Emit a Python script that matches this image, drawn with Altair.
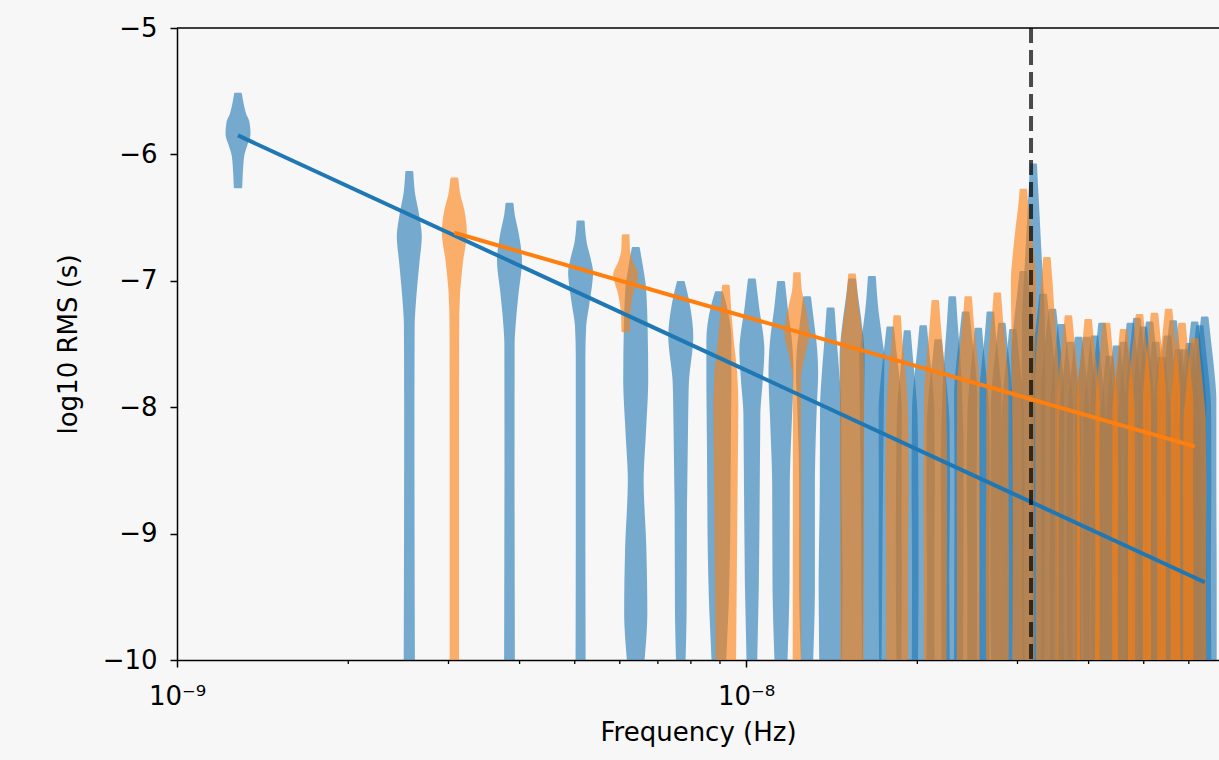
import altair as alt
import pandas as pd

# Fundamental frequencies of the two spectral grids (Hz) and the 1/yr line
BLUE_BASE_HZ = 1.28e-9
ORANGE_BASE_HZ = 3.072e-9
YEAR_HZ = 1.0 / (365.25 * 86400.0)

BLUE = "#1f77b4"
ORANGE = "#ff7f0e"

# Violin outlines per harmonic: (log10 RMS, relative density) knots, bottom -> tip
BLUE_PROFILES = [
    [(-6.26, 0.28), (-6.12, 0.35), (-6.0, 0.48), (-5.92, 0.75), (-5.84, 1.0), (-5.74, 0.9), (-5.68, 0.62), (-5.62, 0.45), (-5.52, 0.25)],
    [(-10, 0.4), (-9, 0.37), (-8, 0.36), (-7.36, 0.38), (-7.1, 0.55), (-6.85, 0.8), (-6.65, 1.0), (-6.47, 0.75), (-6.3, 0.4), (-6.14, 0.26)],
    [(-10, 0.38), (-8.5, 0.35), (-7.5, 0.36), (-7.29, 0.5), (-7.1, 0.7), (-6.84, 1.0), (-6.62, 0.7), (-6.47, 0.36), (-6.39, 0.26)],
    [(-10, 0.35), (-9, 0.33), (-7.6, 0.33), (-7.36, 0.4), (-7.18, 0.68), (-6.93, 1.0), (-6.84, 0.83), (-6.7, 0.45), (-6.53, 0.26)],
    [(-10, 0.68), (-9.63, 0.92), (-9.1, 0.83), (-8.58, 0.6), (-8.2, 0.8), (-7.78, 1.0), (-7.38, 0.95), (-7.05, 0.8), (-6.91, 0.58), (-6.74, 0.26)],
    [(-10, 0.33), (-9.6, 0.42), (-8.8, 0.45), (-8.05, 0.56), (-7.8, 0.62), (-7.44, 1.0), (-7.18, 0.68), (-7.01, 0.26)],
    [(-10, 0.55), (-9.6, 0.75), (-9, 0.9), (-8.3, 0.95), (-7.8, 1.0), (-7.47, 1.0), (-7.2, 0.6), (-7.09, 0.26)],
    [(-10, 0.38), (-9.4, 0.52), (-8.6, 0.6), (-8.05, 0.65), (-7.8, 0.85), (-7.55, 1.0), (-7.2, 0.53), (-6.99, 0.26)],
    [(-10, 0.48), (-9.4, 0.65), (-8.6, 0.68), (-8.1, 0.86), (-7.73, 1.0), (-7.47, 0.86), (-7.2, 0.48), (-7.01, 0.26)],
    [(-10, 0.45), (-9.4, 0.6), (-8.6, 0.6), (-8.0, 0.76), (-7.73, 0.88), (-7.55, 0.8), (-7.33, 0.53), (-7.13, 0.26)],
    [(-10, 0.9), (-9.42, 0.95), (-8.63, 0.85), (-8.0, 0.83), (-7.73, 0.67), (-7.47, 0.45), (-7.22, 0.26)],
    [(-10, 0.85), (-9, 0.9), (-8, 0.95), (-7.6, 1.0), (-7.3, 0.7), (-7.1, 0.4), (-6.99, 0.26)],
    [(-10, 0.76), (-8.84, 0.86), (-7.78, 0.98), (-7.6, 1.0), (-7.47, 0.83), (-7.2, 0.45), (-6.97, 0.26)],
    [(-10, 0.88), (-9.3, 0.92), (-8.6, 0.9), (-8.02, 0.92), (-7.77, 0.72), (-7.55, 0.45), (-7.37, 0.24)],
    [(-10, 0.85), (-9.3, 0.9), (-8.6, 0.88), (-8.05, 0.8), (-7.8, 0.6), (-7.58, 0.38), (-7.40, 0.22)],
    [(-10, 0.9), (-9.3, 0.88), (-8.6, 0.92), (-8.01, 0.88), (-7.76, 0.68), (-7.54, 0.42), (-7.36, 0.24)],
    [(-10, 0.92), (-9.3, 0.88), (-8.6, 0.95), (-8.12, 0.9), (-7.87, 0.7), (-7.65, 0.44), (-7.47, 0.24)],
    [(-10, 0.85), (-9.2, 0.88), (-8.4, 0.9), (-8.12, 0.85), (-7.86, 0.75), (-7.6, 0.6), (-7.33, 0.38), (-7.13, 0.24)],
    [(-10, 0.92), (-9.3, 0.9), (-8.6, 0.88), (-7.9, 0.92), (-7.65, 0.72), (-7.43, 0.45), (-7.25, 0.24)],
    [(-10, 0.88), (-9.3, 0.85), (-8.6, 0.92), (-8.03, 0.85), (-7.78, 0.64), (-7.56, 0.4), (-7.38, 0.24)],
    [(-10, 0.92), (-9.3, 0.88), (-8.6, 0.92), (-7.9, 0.88), (-7.65, 0.66), (-7.43, 0.4), (-7.25, 0.24)],
    [(-10, 0.85), (-9.3, 0.92), (-8.6, 0.88), (-7.99, 0.86), (-7.74, 0.68), (-7.52, 0.42), (-7.34, 0.24)],
    [(-10, 0.92), (-9.3, 0.88), (-8.6, 0.92), (-8.04, 0.86), (-7.79, 0.66), (-7.57, 0.42), (-7.39, 0.24)],
    [(-10, 0.8), (-8.5, 0.9), (-7.6, 0.95), (-7.3, 0.7), (-7.1, 0.45), (-6.93, 0.25)],
    [(-10, 0.85), (-9, 0.9), (-8, 0.95), (-7.3, 0.9), (-7.02, 0.76), (-6.76, 0.6), (-6.49, 0.45), (-6.23, 0.3), (-6.08, 0.22)],
    [(-10, 0.88), (-9.3, 0.92), (-8.6, 0.95), (-7.76, 0.95), (-7.51, 0.75), (-7.29, 0.45), (-7.11, 0.24)],
    [(-10, 0.92), (-9.3, 0.88), (-8.6, 0.92), (-7.88, 0.92), (-7.63, 0.72), (-7.41, 0.45), (-7.23, 0.24)],
    [(-10, 0.88), (-9.3, 0.92), (-8.6, 0.88), (-8.0, 0.9), (-7.75, 0.7), (-7.53, 0.44), (-7.35, 0.24)],
    [(-10, 0.92), (-9.3, 0.88), (-8.6, 0.92), (-8.14, 0.88), (-7.89, 0.68), (-7.67, 0.42), (-7.49, 0.24)],
    [(-10, 0.88), (-9.3, 0.92), (-8.6, 0.94), (-8.1, 0.9), (-7.85, 0.7), (-7.63, 0.44), (-7.45, 0.24)],
    [(-10, 0.92), (-9.3, 0.88), (-8.6, 0.88), (-8.1, 0.92), (-7.85, 0.7), (-7.63, 0.44), (-7.45, 0.24)],
    [(-10, 0.88), (-9.3, 0.94), (-8.6, 0.92), (-8.09, 0.88), (-7.84, 0.68), (-7.62, 0.43), (-7.44, 0.24)],
    [(-10, 0.92), (-9.3, 0.88), (-8.6, 0.92), (-7.99, 0.92), (-7.74, 0.72), (-7.52, 0.45), (-7.34, 0.24)],
    [(-10, 0.88), (-9.3, 0.92), (-8.6, 0.92), (-8.25, 0.88), (-8.0, 0.66), (-7.78, 0.42), (-7.60, 0.24)],
    [(-10, 0.92), (-9.3, 0.9), (-8.6, 0.88), (-8.17, 0.88), (-7.92, 0.68), (-7.7, 0.43), (-7.52, 0.24)],
    [(-10, 0.88), (-9.3, 0.92), (-8.6, 0.94), (-8.14, 0.9), (-7.89, 0.7), (-7.67, 0.44), (-7.49, 0.24)],
    [(-10, 0.92), (-9.3, 0.92), (-8.6, 0.88), (-7.99, 0.9), (-7.74, 0.7), (-7.52, 0.44), (-7.34, 0.24)],
    [(-10, 0.88), (-9.3, 0.9), (-8.6, 0.94), (-7.95, 0.92), (-7.7, 0.72), (-7.48, 0.45), (-7.30, 0.24)],
    [(-10, 0.92), (-9.3, 0.88), (-8.6, 0.92), (-8.02, 0.9), (-7.77, 0.7), (-7.55, 0.44), (-7.37, 0.24)],
    [(-10, 0.9), (-9.3, 0.92), (-8.6, 0.88), (-7.98, 0.92), (-7.73, 0.72), (-7.51, 0.45), (-7.33, 0.24)],
    [(-10, 0.92), (-9.3, 0.88), (-8.6, 0.92), (-8.14, 0.88), (-7.89, 0.68), (-7.67, 0.43), (-7.49, 0.24)],
    [(-10, 0.88), (-9.3, 0.92), (-8.6, 0.9), (-8.26, 0.86), (-8.01, 0.66), (-7.79, 0.42), (-7.61, 0.24)],
    [(-10, 0.92), (-9.3, 0.9), (-8.6, 0.92), (-8.09, 0.9), (-7.84, 0.7), (-7.62, 0.44), (-7.44, 0.24)],
    [(-10, 0.9), (-9.3, 0.92), (-8.6, 0.9), (-7.97, 0.9), (-7.72, 0.72), (-7.5, 0.45), (-7.32, 0.24)],
    [(-10, 0.92), (-9.3, 0.88), (-8.6, 0.92), (-8.2, 0.88), (-7.95, 0.66), (-7.73, 0.42), (-7.55, 0.24)],
    [(-10, 0.88), (-9.3, 0.92), (-8.6, 0.88), (-8.2, 0.9), (-7.95, 0.68), (-7.73, 0.42), (-7.55, 0.24)],
    [(-10, 0.92), (-9.3, 0.9), (-8.6, 0.92), (-8.15, 0.88), (-7.9, 0.68), (-7.68, 0.43), (-7.50, 0.24)],
    [(-10, 0.9), (-9.3, 0.92), (-8.6, 0.88), (-7.98, 0.92), (-7.73, 0.72), (-7.51, 0.45), (-7.33, 0.24)],
    [(-10, 0.92), (-9.3, 0.88), (-8.6, 0.92), (-8.01, 0.9), (-7.76, 0.7), (-7.54, 0.44), (-7.36, 0.24)],
    [(-10, 0.95), (-9.3, 0.95), (-8.6, 0.92), (-7.94, 0.92), (-7.69, 0.72), (-7.47, 0.45), (-7.29, 0.24)],
]

ORANGE_PROFILES = [
    [(-10, 0.32), (-8.5, 0.32), (-7.4, 0.33), (-7.1, 0.41), (-6.97, 0.53), (-6.84, 0.68), (-6.62, 1.0), (-6.44, 0.78), (-6.31, 0.42), (-6.19, 0.26)],
    [(-7.40, 0.28), (-7.26, 0.32), (-7.1, 0.58), (-6.95, 1.0), (-6.85, 0.55), (-6.76, 0.3), (-6.64, 0.25)],
    [(-10, 0.8), (-9.5, 0.85), (-8.5, 0.95), (-8.0, 1.0), (-7.73, 0.9), (-7.47, 0.6), (-7.2, 0.36), (-7.04, 0.25)],
    [(-10, 0.28), (-8.5, 0.26), (-7.78, 0.27), (-7.6, 0.58), (-7.41, 1.0), (-7.33, 0.91), (-7.2, 0.64), (-7.07, 0.33), (-6.94, 0.24)],
    [(-10, 0.92), (-9, 0.92), (-8.2, 0.95), (-7.73, 0.95), (-7.47, 0.86), (-7.2, 0.48), (-6.95, 0.25)],
    [(-10, 0.88), (-9.3, 0.86), (-8.6, 0.92), (-8.05, 0.85), (-7.73, 0.65), (-7.47, 0.38), (-7.28, 0.24)],
    [(-10, 0.9), (-9.3, 0.92), (-8.6, 0.94), (-7.86, 0.86), (-7.6, 0.64), (-7.35, 0.4), (-7.16, 0.24)],
    [(-10, 0.92), (-9.3, 0.9), (-8.6, 0.92), (-7.83, 0.88), (-7.58, 0.68), (-7.33, 0.4), (-7.13, 0.24)],
    [(-10, 0.9), (-9.3, 0.92), (-8.6, 0.88), (-7.8, 0.88), (-7.55, 0.66), (-7.3, 0.4), (-7.10, 0.24)],
    [(-10, 0.85), (-9, 0.85), (-8, 0.9), (-7.4, 0.95), (-7.0, 1.0), (-6.76, 0.8), (-6.55, 0.55), (-6.4, 0.35), (-6.28, 0.24)],
    [(-10, 0.85), (-8.5, 0.9), (-7.8, 0.95), (-7.55, 0.83), (-7.29, 0.6), (-7.02, 0.41), (-6.82, 0.24)],
    [(-10, 0.92), (-9.3, 0.9), (-8.6, 0.94), (-7.93, 0.88), (-7.68, 0.68), (-7.46, 0.42), (-7.28, 0.24)],
    [(-10, 0.9), (-9.3, 0.92), (-8.6, 0.9), (-7.96, 0.9), (-7.71, 0.68), (-7.49, 0.42), (-7.31, 0.24)],
    [(-10, 0.92), (-9.3, 0.88), (-8.6, 0.92), (-7.99, 0.88), (-7.74, 0.68), (-7.52, 0.42), (-7.34, 0.24)],
    [(-10, 0.9), (-9.3, 0.92), (-8.6, 0.9), (-8.04, 0.88), (-7.79, 0.66), (-7.57, 0.42), (-7.39, 0.24)],
    [(-10, 0.92), (-9.3, 0.9), (-8.6, 0.92), (-7.92, 0.9), (-7.67, 0.7), (-7.45, 0.43), (-7.27, 0.24)],
    [(-10, 0.9), (-9.3, 0.92), (-8.6, 0.9), (-7.91, 0.9), (-7.66, 0.7), (-7.44, 0.43), (-7.26, 0.24)],
    [(-10, 0.92), (-9.3, 0.9), (-8.6, 0.92), (-7.88, 0.9), (-7.63, 0.7), (-7.41, 0.43), (-7.23, 0.24)],
    [(-10, 0.9), (-9.3, 0.92), (-8.6, 0.88), (-7.99, 0.9), (-7.74, 0.68), (-7.52, 0.42), (-7.34, 0.24)],
    [(-10, 0.92), (-9.3, 0.9), (-8.6, 0.92), (-8.11, 0.88), (-7.86, 0.66), (-7.64, 0.42), (-7.46, 0.24)],
]

# Power-law fits: log10 RMS at the first and last harmonic of each grid
BLUE_FIT = [-5.85, -9.385]
ORANGE_FIT = [-6.62, -8.31]

MINOR_TICKS_HZ = [2e-9, 3e-9, 4e-9, 5e-9, 6e-9, 7e-9, 8e-9, 9e-9,
                  2e-8, 3e-8, 4e-8, 5e-8, 6e-8]

# Layout
PLOT_W, PLOT_H = 1042, 632
X_MIN, X_MAX = 1e-9, 6.78e-8
DECADE_PX = PLOT_W / 1.8312
HALF_WIDTH_DEC = 11.5 / DECADE_PX  # half violin width (in decades) at density 1

FONT = "DejaVu Sans"


def violin_frame(base, profiles, name):
    rows = []
    for k, prof in enumerate(profiles, start=1):
        f = base * k
        for y, d in sorted(prof):
            rows.append({
                "vid": f"{name}-{k:02d}", "y": y,
                "lo": f * 10 ** (-HALF_WIDTH_DEC * d),
                "hi": f * 10 ** (HALF_WIDTH_DEC * d),
            })
    return pd.DataFrame(rows)


def fit_frame(base, profiles, fit):
    n = len(profiles)
    return pd.DataFrame({"f": [base, base * n], "y": fit})


xscale = alt.Scale(type="log", domain=[X_MIN, X_MAX], nice=False, zero=False)
yscale = alt.Scale(domain=[-10, -5], nice=False, zero=False)

x_axis = alt.Axis(
    values=[1e-9, 1e-8],
    labelExpr="datum.value < 5e-9 ? '10⁻⁹' : '10⁻⁸'",
    labelFlush=False,
    title="Frequency (Hz)", grid=False, tickSize=7,
    labelPadding=16, titlePadding=10,
)
y_axis = alt.Axis(
    values=[-10, -9, -8, -7, -6, -5], format="d",
    title="log10 RMS (s)", grid=False, tickSize=7,
    labelPadding=13, titlePadding=21,
)


def violins(df, color):
    return alt.Chart(df).mark_area(
        orient="horizontal", interpolate="monotone", color=color,
        opacity=0.6, stroke=color, strokeWidth=2, strokeJoin="round", clip=True,
    ).encode(
        y=alt.Y("y:Q", scale=yscale, axis=y_axis),
        x=alt.X("lo:Q", scale=xscale, axis=x_axis, stack=False),
        x2="hi:Q",
        detail="vid:N",
    )


def fit_line(df, color):
    return alt.Chart(df).mark_line(color=color, strokeWidth=4, clip=True).encode(
        x=alt.X("f:Q", scale=xscale, axis=x_axis),
        y=alt.Y("y:Q", scale=yscale, axis=y_axis),
    )


blue_v = violins(violin_frame(BLUE_BASE_HZ, BLUE_PROFILES, "b"), BLUE)
orange_v = violins(violin_frame(ORANGE_BASE_HZ, ORANGE_PROFILES, "o"), ORANGE)
blue_fit = fit_line(fit_frame(BLUE_BASE_HZ, BLUE_PROFILES, BLUE_FIT), BLUE)
orange_fit = fit_line(fit_frame(ORANGE_BASE_HZ, ORANGE_PROFILES, ORANGE_FIT), ORANGE)

year_line = alt.Chart(pd.DataFrame({"f": [YEAR_HZ]})).mark_rule(
    color="black", opacity=0.7, strokeWidth=4, strokeDash=[15, 7]
).encode(x=alt.X("f:Q", scale=xscale, axis=x_axis))

minor_ticks = alt.Chart(pd.DataFrame({"f": MINOR_TICKS_HZ})).mark_rule(
    color="black", strokeWidth=1.3
).encode(
    x=alt.X("f:Q", scale=xscale, axis=x_axis),
    y=alt.value(PLOT_H), y2=alt.value(PLOT_H + 4),
)

top_spine = alt.Chart(pd.DataFrame({"a": [0]})).mark_rule(
    color="black", strokeWidth=1.5
).encode(x=alt.value(0), x2=alt.value(PLOT_W), y=alt.value(0))

chart = alt.layer(
    blue_v, orange_v, blue_fit, orange_fit, year_line, minor_ticks, top_spine
).properties(
    width=PLOT_W, height=PLOT_H,
    autosize=alt.AutoSizeParams(type="none"),
    padding={"left": 177, "top": 28, "right": 0, "bottom": 100},
    background="#f7f7f7",
).configure_view(
    stroke=None
).configure_axis(
    domainColor="black", domainWidth=1.5, tickColor="black", tickWidth=1.5,
    labelColor="black", titleColor="black",
    labelFont=FONT, titleFont=FONT, labelFontSize=26, titleFontSize=26,
    titleFontWeight="normal",
)

chart.save("out.html", embed_options={"renderer": "svg", "actions": False})
